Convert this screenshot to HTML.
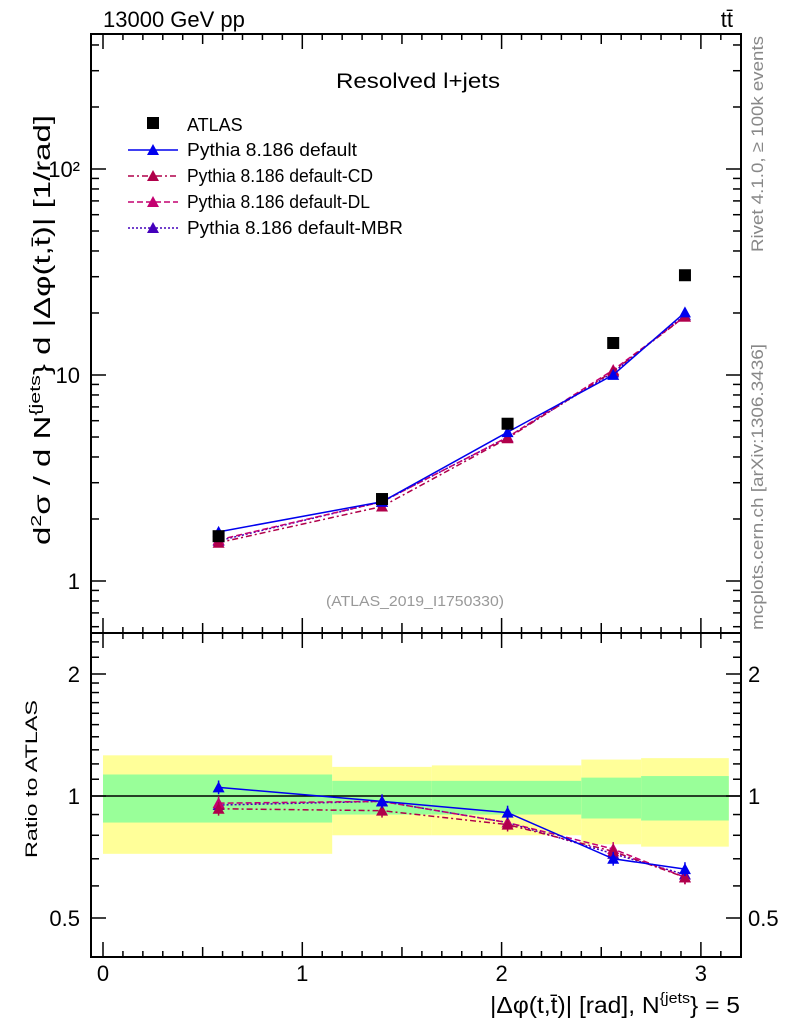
<!DOCTYPE html>
<html><head><meta charset="utf-8"><style>
body{margin:0;background:#fff;}
svg{display:block;font-family:"Liberation Sans",sans-serif;}
</style></head><body>
<svg id="c" width="786" height="1024" viewBox="0 0 786 1024" xmlns="http://www.w3.org/2000/svg"></svg>
<script>
const categories=[0.58,1.40,2.03,2.56,2.92];
const binEdges=[0,1.15,1.65,2.4,2.7,3.14];
const atlasValues=[1.65,2.5,5.8,14.3,30.5];
const ratioDefault=[1.05,0.97,0.91,0.70,0.66];
const ratioCD=[0.93,0.92,0.85,0.73,0.63];
const ratioDL=[0.96,0.97,0.86,0.74,0.63];
const ratioMBR=[0.95,0.97,0.86,0.72,0.64];
const bandYellowHi=[1.26,1.18,1.19,1.23,1.24];
const bandYellowLo=[0.72,0.80,0.80,0.76,0.75];
const bandGreenHi=[1.13,1.09,1.09,1.11,1.12];
const bandGreenLo=[0.86,0.90,0.90,0.88,0.87];
const xTickLabels=["0","1","2","3"];
const mainYTickLabels=["1","10","10²"];
const ratioYTickLabels=["0.5","1","2"];

const S=document.getElementById('c');const NS='http://www.w3.org/2000/svg';
function el(t,a,p){const e=document.createElementNS(NS,t);for(const k in a)e.setAttribute(k,a[k]);(p||S).appendChild(e);return e;}
const L=91,R=741,MT=34,MB=633,RT=633,RB=957;
const X=v=>103+v*199.3;
const YM=v=>581-Math.log10(v)*206;
const YR=v=>796-Math.log2(v)*122;

for(let i=0;i<5;i++){
 const r=el('rect',{x:X(binEdges[i]),y:YR(bandYellowHi[i]),width:X(binEdges[i+1])-X(binEdges[i]),height:YR(bandYellowLo[i])-YR(bandYellowHi[i]),fill:'#ffff99'});
 
 
 const g=el('rect',{x:X(binEdges[i]),y:YR(bandGreenHi[i]),width:X(binEdges[i+1])-X(binEdges[i]),height:YR(bandGreenLo[i])-YR(bandGreenHi[i]),fill:'#99ff99'});
 
 
}
el('line',{x1:L,x2:R,y1:YR(1),y2:YR(1),stroke:'#000','stroke-width':1.5});

for(const [t,b] of [[MT,MB],[RT,RB]]){
 const f=el('rect',{x:L,y:t,width:R-L,height:b-t,fill:'none',stroke:'#000','stroke-width':2});
 
 
 for(let v=0;v<=3.15;v+=0.1){
  const vv=Math.round(v*10)/10;const maj=Math.abs(vv-Math.round(vv))<1e-6;const mid=Math.abs(vv*10%10-5)<1e-6;
  const len=maj?15:(mid?10:6);
  el('line',{x1:X(vv),x2:X(vv),y1:b,y2:b-len,stroke:'#000','stroke-width':1.5});
  el('line',{x1:X(vv),x2:X(vv),y1:t,y2:t+len,stroke:'#000','stroke-width':1.5});
 }
}
for(const d of [0.1,1,10,100]){for(let k=1;k<10;k++){const v=d*k;const y=YM(v);if(y<MT||y>MB)continue;const len=k==1?15:8;
 el('line',{x1:L,x2:L+len,y1:y,y2:y,stroke:'#000','stroke-width':1.5});el('line',{x1:R,x2:R-len,y1:y,y2:y,stroke:'#000','stroke-width':1.5});}}
[1,10,100].forEach((v,i)=>{const t=el('text',{x:80,y:YM(v)+8,'text-anchor':'end','font-size':22});t.textContent=mainYTickLabels[i];
 
 });
for(const v of [0.5,0.6,0.7,0.8,0.9,1,1.1,1.2,1.3,1.4,1.5,1.6,1.7,1.8,1.9,2,2.2,2.4]){const y=YR(v);if(y<RT||y>RB)continue;const len=(v==0.5||v==1||v==2)?15:8;
 el('line',{x1:L,x2:L+len,y1:y,y2:y,stroke:'#000','stroke-width':1.5});el('line',{x1:R,x2:R-len,y1:y,y2:y,stroke:'#000','stroke-width':1.5});}
[0.5,1,2].forEach((v,i)=>{for(const [x,a] of [[80,'end'],[748,'start']]){const t=el('text',{x:x,y:YR(v)+8,'text-anchor':a,'font-size':22});t.textContent=ratioYTickLabels[i];
 
 }});
[0,1,2,3].forEach((v,i)=>{const t=el('text',{x:X(v),y:981,'text-anchor':'middle','font-size':22});t.textContent=xTickLabels[i];
 
 });

function tri(x,y,c,p){el('path',{d:`M${x},${y-6}L${x+6},${y+5}L${x-6},${y+5}Z`,fill:c},p);}
const series=[
 {n:'pythia-default',r:ratioDefault,c:'#0000ee',dash:'',sw:1.5},
 {n:'pythia-default-cd',r:ratioCD,c:'#b0004a',dash:'6,3,2,3',sw:1.5},
 {n:'pythia-default-dl',r:ratioDL,c:'#c40070',dash:'6,3',sw:1.5},
 {n:'pythia-default-mbr',r:ratioMBR,c:'#4400bb',dash:'2,2',sw:1.5}];
for(const s of series.slice().reverse()){
 for(const [Y,vals] of [[YM,s.r.map((r,i)=>r*atlasValues[i])],[YR,s.r]]){
  const g=el('g',{});
  
  
  el('polyline',{points:categories.map((x,i)=>X(x)+','+Y(vals[i])).join(' '),fill:'none',stroke:s.c,'stroke-width':s.sw,'stroke-dasharray':s.dash},g);
  categories.forEach((x,i)=>{const v=vals[i];el('line',{x1:X(x),x2:X(x),y1:Y(v*1.04),y2:Y(v/1.04),stroke:s.c,'stroke-width':1.5},g);tri(X(x),Y(v),s.c,g);});
 }
}
categories.forEach((x,i)=>{const r=el('rect',{x:X(x)-6,y:YM(atlasValues[i])-6,width:12,height:12,fill:'#000'});
 
 });

const lg=el('g',{});
el('rect',{x:147,y:117,width:12,height:12,fill:'#000'},lg);
let t=el('text',{x:187,y:131,'font-size':18},lg);t.textContent='ATLAS';
const names=['Pythia 8.186 default','Pythia 8.186 default-CD','Pythia 8.186 default-DL','Pythia 8.186 default-MBR'];
const nameLen=[170,186,183,216];
series.forEach((s,i)=>{const y=150+i*26;const e=el('g',{},lg);
 el('line',{x1:128,x2:178,y1:y,y2:y,stroke:s.c,'stroke-width':1.5,'stroke-dasharray':s.dash},e);tri(153,y,s.c,e);
 const tt=el('text',{x:187,y:y+6,'font-size':18,textLength:nameLen[i],lengthAdjust:'spacingAndGlyphs'},e);tt.textContent=names[i];});

function txt(x,y,s,str,extra){const t=el('text',Object.assign({x:x,y:y,'font-size':s},extra||{}));t.textContent=str;return t;}
let a=txt(103,27,22,'13000 GeV pp');
a=txt(733,27,22,'tt̄',{'text-anchor':'end'});
a=txt(336,88,21,'Resolved l+jets',{textLength:164,lengthAdjust:'spacingAndGlyphs'});
a=txt(326,606,15,'(ATLAS_2019_I1750330)',{fill:'#999',textLength:178,lengthAdjust:'spacingAndGlyphs'});
a=txt(0,0,17,'Rivet 4.1.0, ≥ 100k events',{fill:'#888',transform:'translate(763,252) rotate(-90)',textLength:216,lengthAdjust:'spacingAndGlyphs'});
a=txt(0,0,17,'mcplots.cern.ch [arXiv:1306.3436]',{fill:'#888',transform:'translate(763,630) rotate(-90)',textLength:286,lengthAdjust:'spacingAndGlyphs'});
a=txt(0,0,23,'',{transform:'translate(50,545) rotate(-90)',textLength:430,lengthAdjust:'spacingAndGlyphs'});a.innerHTML='d<tspan dy="-9" font-size="15">2</tspan><tspan dy="9">σ / d N</tspan><tspan dy="-10" font-size="15">{jets</tspan><tspan dy="10">} d |Δφ(t,t̄)| [1/rad]</tspan>';

a=txt(0,0,17,'Ratio to ATLAS',{transform:'translate(37,858) rotate(-90)',textLength:158,lengthAdjust:'spacingAndGlyphs'});
a=txt(490,1013,23,'',{textLength:250,lengthAdjust:'spacingAndGlyphs'});a.innerHTML='|Δφ(t,t̄)| [rad], N<tspan dy="-10" font-size="15">{jets</tspan><tspan dy="10">} = 5</tspan>';

</script>
</body></html>
